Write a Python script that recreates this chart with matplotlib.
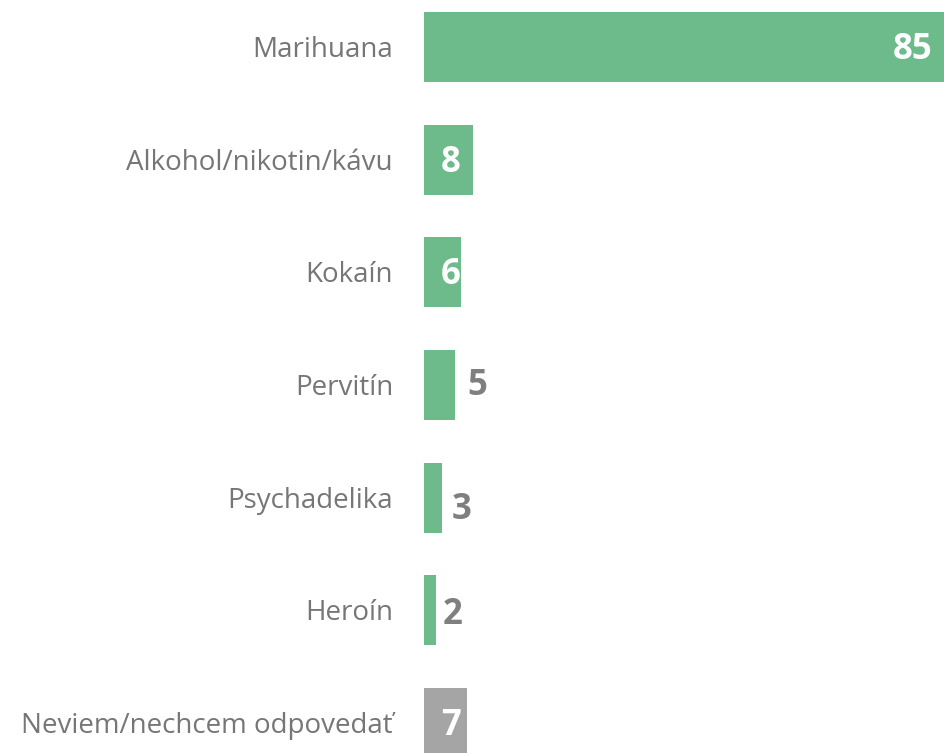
import matplotlib
matplotlib.use("Agg")
import matplotlib.pyplot as plt

categories = ["Marihuana", "Alkohol/nikotin/kávu", "Kokaín", "Pervitín",
              "Psychadelika", "Heroín", "Neviem/nechcem odpovedať"]
values = [85, 8, 6, 5, 3, 2, 7]

# styling
bar_colors = ["#6dbb8b"] * 6 + ["#a5a5a5"]
# label placement: (mode, dx_px, dy_px)
label_style = [("end_in", -12, -3), ("start_in", 17, -3), ("start_in", 17, -3),
               ("end_out", 13, -1), ("end_out", 9, -12), ("end_out", 6, -5),
               ("start_in", 17, -3)]

W, H = 944, 753
fig = plt.figure(figsize=(W / 100, H / 100), dpi=100)
ax = fig.add_axes([424 / W, 0, (W - 424) / W, 1])
ys = list(range(len(categories)))
ax.barh(ys, values, height=0.62, color=bar_colors, edgecolor="none")
ax.set_xlim(0, 85)
ax.set_ylim(6.266, -0.417)
for s in ax.spines.values():
    s.set_visible(False)
ax.set_xticks([])
ax.set_yticks([])

font = "Open Sans"
for y, cat in zip(ys, categories):
    ax.annotate(cat, xy=(0, y), xytext=(-31, -3), textcoords="offset pixels",
                ha="right", va="center", fontsize=20, color="#767676",
                family=font)
for y, v, (mode, dx, dy) in zip(ys, values, label_style):
    if mode == "end_in":
        ax.annotate(str(v), xy=(v, y), xytext=(dx, dy), textcoords="offset pixels",
                    ha="right", va="center", fontsize=25, fontweight="bold",
                    color="white", family=font)
    elif mode == "start_in":
        ax.annotate(str(v), xy=(0, y), xytext=(dx, dy), textcoords="offset pixels",
                    ha="left", va="center", fontsize=25, fontweight="bold",
                    color="white", family=font)
    else:
        ax.annotate(str(v), xy=(v, y), xytext=(dx, dy), textcoords="offset pixels",
                    ha="left", va="center", fontsize=25, fontweight="bold",
                    color="#7f7f7f", family=font)

fig.savefig("out.png", dpi=100)
